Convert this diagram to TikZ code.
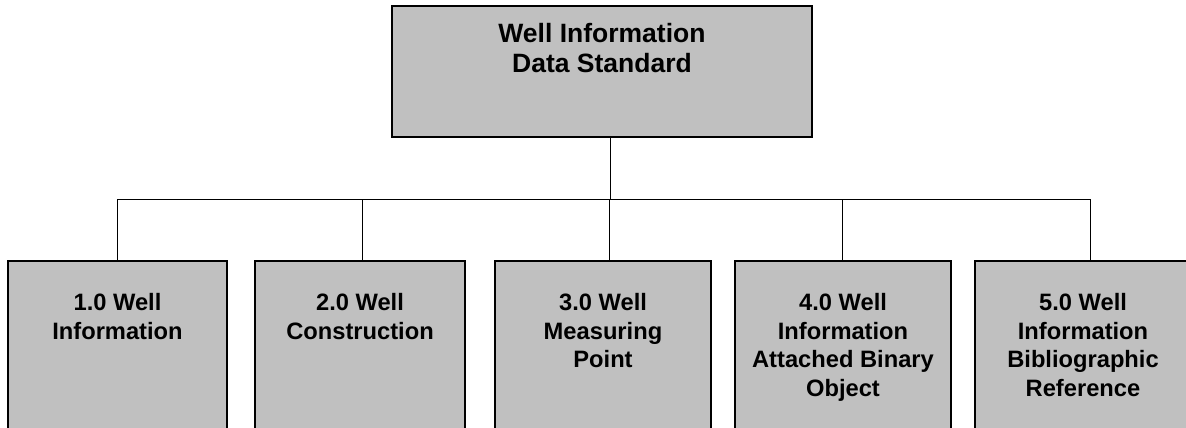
\documentclass[tikz,border=0pt]{standalone}
\usepackage{fontspec}
\setmainfont{Liberation Sans}
\usetikzlibrary{calc}
\definecolor{boxgray}{RGB}{192,192,192}
\begin{document}
\begin{tikzpicture}[x=1pt,y=-1pt,
  box/.style={draw=black, line width=1.5pt, fill=boxgray, inner sep=0pt},
  conn/.style={line width=1pt},
  toplbl/.style={font=\bfseries\fontsize{26.5}{30}\selectfont, align=center, anchor=north, inner sep=0pt},
  lbl/.style={font=\bfseries\fontsize{23.7}{28.7}\selectfont, align=center, anchor=north, inner sep=0pt}]
\useasboundingbox (0,0) rectangle (1186,428);
\clip (0,0) rectangle (1186,428);
% boxes
\node[box, minimum width=420pt, minimum height=131pt] (top) at (602,71.5) {};
\node[box, minimum width=219pt, minimum height=184pt] (b1) at (117.5,353) {};
\node[box, minimum width=210pt, minimum height=184pt] (b2) at (360,353) {};
\node[box, minimum width=216pt, minimum height=184pt] (b3) at (603,353) {};
\node[box, minimum width=216pt, minimum height=184pt] (b4) at (843,353) {};
\node[box, minimum width=216pt, minimum height=184pt] (b5) at (1083,353) {};
% labels
\node[toplbl] (ttop) at ($(top.north)+(0,17.7)$) {Well Information\\Data Standard};
\node[lbl] (t1) at ($(b1.north)+(0,32.7)$) {1.0 Well\\Information};
\node[lbl] (t2) at ($(b2.north)+(0,32.7)$) {2.0 Well\\Construction};
\node[lbl] (t3) at ($(b3.north)+(0,32.7)$) {3.0 Well\\Measuring\\Point};
\node[lbl] (t4) at ($(b4.north)+(0,32.7)$) {4.0 Well\\Information\\Attached Binary\\Object};
\node[lbl] (t5) at ($(b5.north)+(0,32.7)$) {5.0 Well\\Information\\Bibliographic\\Reference};
% junction coordinates
\coordinate (tj) at (610,199);
\coordinate (d1) at (117,199);
\coordinate (d2) at (362,199);
\coordinate (d3) at (609,199);
\coordinate (d4) at (842,199);
\coordinate (d5) at (1090,199);
% connectors
\draw[conn] (tj |- top.south) -- (tj);
\draw[conn] (d1) -- (d5);
\draw[conn] (d1) -- (d1 |- b1.north);
\draw[conn] (d2) -- (d2 |- b2.north);
\draw[conn] (d3) -- (d3 |- b3.north);
\draw[conn] (d4) -- (d4 |- b4.north);
\draw[conn] (d5) -- (d5 |- b5.north);
\end{tikzpicture}
\end{document}
